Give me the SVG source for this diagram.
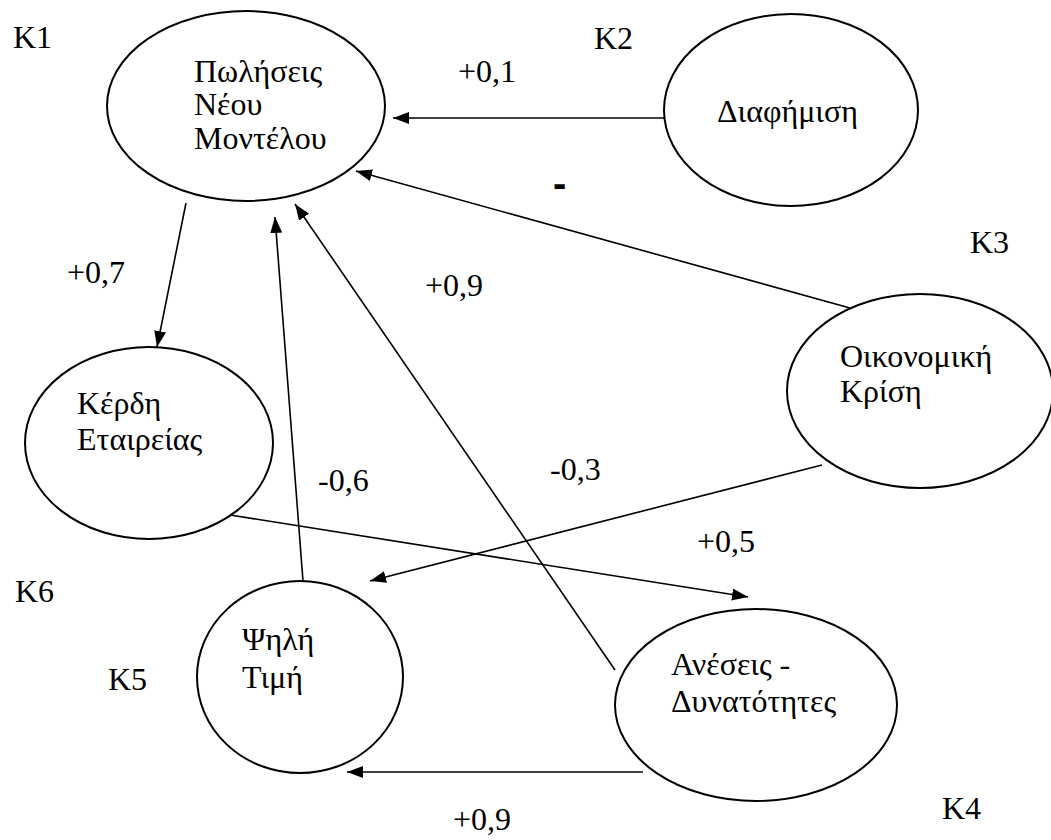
<svg xmlns="http://www.w3.org/2000/svg" width="1051" height="840" viewBox="0 0 1051 840">
<style>
.node ellipse{fill:#fff;stroke:#000;stroke-width:2}
.t{font-family:'Liberation Serif','DejaVu Serif','Noto Serif',Tinos,'Times New Roman',Times,serif;font-size:32px;fill:#000}
.conn line{stroke:#000;stroke-width:1.6;fill:none;marker-end:url(#ah)}
.minus{font-family:'Liberation Sans',Arial,sans-serif;font-weight:bold;font-size:40px;fill:#000}
</style>
<defs>
<marker id="ah" markerUnits="userSpaceOnUse" markerWidth="17" markerHeight="13" refX="16" refY="6" orient="auto">
<path d="M0,0 L16,6 L0,12 z" fill="#000"/>
</marker>
</defs>
<rect width="1051" height="840" fill="#fff"/>
<g id="connectors" class="conn">
<line x1="664" y1="118" x2="393" y2="118"/>
<line x1="850" y1="308" x2="356" y2="171"/>
<line x1="186" y1="203" x2="157" y2="347"/>
<line x1="303" y1="581" x2="275" y2="217"/>
<line x1="615" y1="670" x2="295" y2="204"/>
<line x1="822" y1="465" x2="370" y2="581"/>
<line x1="230" y1="515" x2="748" y2="597"/>
<line x1="643" y1="772" x2="347" y2="772"/>
</g>
<g id="K1" class="node">
<ellipse cx="246" cy="106" rx="139" ry="95"/>
<text class="t" font-family="Liberation Serif, serif" x="194" y="82">Πωλήσεις</text>
<text class="t" font-family="Liberation Serif, serif" x="194" y="115">Νέου</text>
<text class="t" font-family="Liberation Serif, serif" x="194" y="149">Μοντέλου</text>
</g>
<g id="K2" class="node">
<ellipse cx="791" cy="110" rx="127" ry="96"/>
<text class="t" font-family="Liberation Serif, serif" x="717" y="122">Διαφήμιση</text>
</g>
<g id="K3" class="node">
<ellipse cx="920" cy="391" rx="133" ry="97"/>
<text class="t" font-family="Liberation Serif, serif" x="840" y="367">Οικονομική</text>
<text class="t" font-family="Liberation Serif, serif" x="840" y="402">Κρίση</text>
</g>
<g id="K6" class="node">
<ellipse cx="149" cy="443" rx="124" ry="96"/>
<text class="t" font-family="Liberation Serif, serif" x="77" y="414">Κέρδη</text>
<text class="t" font-family="Liberation Serif, serif" x="77" y="450">Εταιρείας</text>
</g>
<g id="K5" class="node">
<ellipse cx="300" cy="677" rx="103" ry="96"/>
<text class="t" font-family="Liberation Serif, serif" x="242" y="650">Ψηλή</text>
<text class="t" font-family="Liberation Serif, serif" x="242" y="688">Τιμή</text>
</g>
<g id="K4" class="node">
<ellipse cx="756" cy="705" rx="141" ry="96"/>
<text class="t" font-family="Liberation Serif, serif" x="671" y="675">Ανέσεις -</text>
<text class="t" font-family="Liberation Serif, serif" x="671" y="712">Δυνατότητες</text>
</g>
<g id="labels">
<text class="t" font-family="Liberation Serif, serif" x="13" y="48">K1</text>
<text class="t" font-family="Liberation Serif, serif" x="594" y="49">K2</text>
<text class="t" font-family="Liberation Serif, serif" x="970" y="253">K3</text>
<text class="t" font-family="Liberation Serif, serif" x="942" y="819">K4</text>
<text class="t" font-family="Liberation Serif, serif" x="108" y="690">K5</text>
<text class="t" font-family="Liberation Serif, serif" x="15" y="602">K6</text>
<text class="t" font-family="Liberation Serif, serif" x="458" y="82">+0,1</text>
<text class="minus" x="553" y="197">-</text>
<text class="t" font-family="Liberation Serif, serif" x="67" y="283">+0,7</text>
<text class="t" font-family="Liberation Serif, serif" x="425" y="296">+0,9</text>
<text class="t" font-family="Liberation Serif, serif" x="318" y="491">-0,6</text>
<text class="t" font-family="Liberation Serif, serif" x="550" y="480">-0,3</text>
<text class="t" font-family="Liberation Serif, serif" x="697" y="552">+0,5</text>
<text class="t" font-family="Liberation Serif, serif" x="453" y="830">+0,9</text>
</g>
</svg>
